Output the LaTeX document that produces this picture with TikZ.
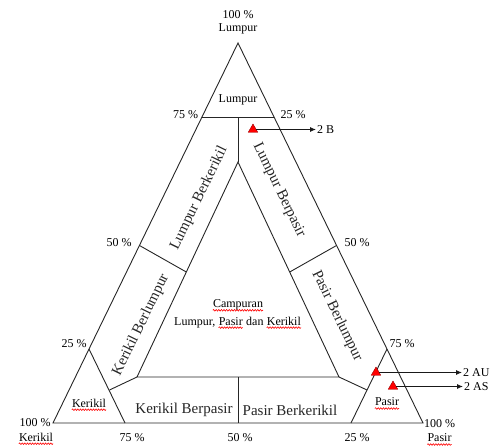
\documentclass[tikz,border=0pt]{standalone}
\usepackage{fontspec}
\setmainfont{Liberation Serif}
\usetikzlibrary{arrows.meta,shapes.geometric,decorations.pathmorphing}
\tikzset{
  ln/.style={line width=0.9pt, draw=black!85},
  txt/.style={font=\fontsize{12}{15}\selectfont, inner sep=0pt, text=black},
  band/.style={font=\fontsize{15}{17}\selectfont, inner sep=0pt, text=black!85},
  redmark/.style={regular polygon, regular polygon sides=3, fill=red, draw=red!60!black,
                  line width=0.4pt, minimum size=11pt, inner sep=0pt},
  arr/.style={line width=0.9pt, draw=black!90, -{Latex[length=6pt,width=5pt]}},
  wave/.style={draw=red, line width=0.6pt, decorate,
               decoration={snake, amplitude=0.8pt, segment length=2.6pt}},
}
\newcommand\uwv[1]{\draw[wave] ([yshift=-2.6pt]#1.base west) -- ([yshift=-2.6pt]#1.base east);}
\begin{document}
\begin{tikzpicture}[x=1pt,y=-1pt]
\useasboundingbox (0,0) rectangle (501,447);
% geometry
\coordinate (A) at (238,43);
\coordinate (B) at (53,423);
\coordinate (C) at (423,423);
\coordinate (LL) at (201.7,117.5);
\coordinate (LR) at (274.3,117.5);
\coordinate (LM) at (238,117.5);
\coordinate (I) at (238,162);
\coordinate (IL) at (137,377);
\coordinate (IR) at (339,377);
\coordinate (IM) at (238,377);
\coordinate (BM) at (238,423);
\coordinate (KA) at (89,349);
\coordinate (KB) at (125,423);
\coordinate (KS) at (109.5,390);
\coordinate (PA) at (387,349);
\coordinate (PB) at (351,423);
\coordinate (PS) at (367,390);
\coordinate (DL1) at (139.5,245.5);
\coordinate (DL2) at (186.3,272);
\coordinate (DR1) at (336.5,245.5);
\coordinate (DR2) at (289.7,272);
\draw[ln] (A) -- (B) -- (C) -- cycle;
\draw[ln] (LL) -- (LR);
\draw[ln] (LM) -- (I);
\draw[ln] (I) -- (IL) -- (IR) -- cycle;
\draw[ln] (IM) -- (BM);
\draw[ln] (KA) -- (KB);
\draw[ln] (KS) -- (IL);
\draw[ln] (PA) -- (PB);
\draw[ln] (PS) -- (IR);
\draw[ln] (DL1) -- (DL2);
\draw[ln] (DR1) -- (DR2);
% percentages and corner labels
\node[txt] (t100) at (238,15) {100 \%};
\node[txt] (tLum) at (238,29) {Lumpur};
\node[txt] (p75l) at (185.5,115) {75 \%};
\node[txt] (p25r) at (293,115) {25 \%};
\node[txt] (p50l) at (119,243) {50 \%};
\node[txt] (p50r) at (357,243) {50 \%};
\node[txt] (p25l) at (74,344) {25 \%};
\node[txt] (p75r) at (402,344) {75 \%};
\node[txt] (b100l) at (35,423) {100 \%};
\node[txt] (bKer) at (36,437) {Kerikil};
\node[txt] (b75) at (132,438) {75 \%};
\node[txt] (b50) at (240,438) {50 \%};
\node[txt] (b25) at (357,438) {25 \%};
\node[txt] (b100r) at (439.5,424) {100 \%};
\node[txt] (bPas) at (439.5,438) {Pasir};
% region labels
\node[txt] (rLum) at (238,100) {Lumpur};
\node[txt] (rKer) at (89,403) {Kerikil};
\node[txt] (rPas) at (387,402) {Pasir};
\node[txt] (cA) at (238,305) {Campuran};
\node[txt, anchor=base west] (cB) at (174,325) {Lumpur,};
\node[txt, anchor=base west] (cC) at ([xshift=3pt]cB.base east) {Pasir};
\node[txt, anchor=base west] (cD) at ([xshift=3pt]cC.base east) {dan};
\node[txt, anchor=base west] (cE) at ([xshift=3pt]cD.base east) {Kerikil};
\node[band] (rKBp) at (184,410) {Kerikil Berpasir};
\node[band] (rPBk) at (290,410) {Pasir Berkerikil};
\node[band, rotate=64.04] (rLBk) at (199,198) {Lumpur Berkerikil};
\node[band, rotate=64.04] (rKBl) at (141,325) {Kerikil Berlumpur};
\node[band, rotate=-64.04] (rLBp) at (279,190) {Lumpur Berpasir};
\node[band, rotate=-64.04] (rPBl) at (337,316) {Pasir Berlumpur};
% spelling squiggles
\uwv{bKer}\uwv{bPas}\uwv{rKer}\uwv{rPas}\uwv{cA}\uwv{cC}\uwv{cE}
% samples
\node[redmark] (mB) at (253,129.5) {};
\node[redmark] (mAU) at (376,372.5) {};
\node[redmark] (mAS) at (393,386.5) {};
\node[txt, anchor=west, inner sep=1pt] (lB) at (316,129.5) {2 B};
\node[txt, anchor=west, inner sep=1pt] (lAU) at (462,372.5) {2 AU};
\node[txt, anchor=west, inner sep=1pt] (lAS) at (463,386.5) {2 AS};
\draw[arr] (mB) -- (lB);
\draw[arr] (mAU) -- (lAU);
\draw[arr] (mAS) -- (lAS);
\end{tikzpicture}
\end{document}
